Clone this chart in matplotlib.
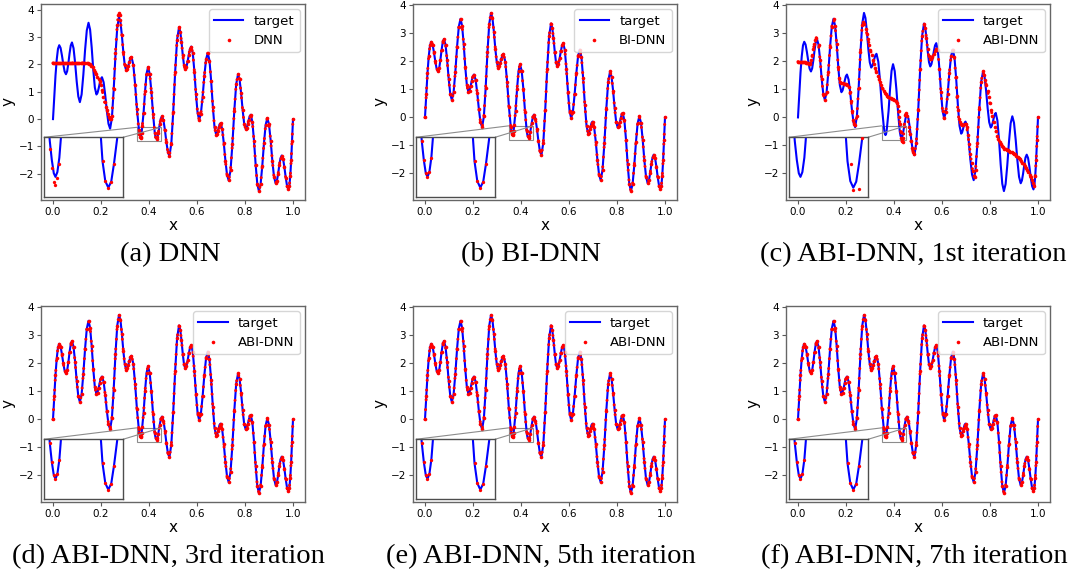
import numpy as np
import matplotlib
matplotlib.use("Agg")
import matplotlib.pyplot as plt
from mpl_toolkits.axes_grid1.inset_locator import mark_inset

# target curve: extrema plus a few points per half wave
target_x = [0.0, 0.0052, 0.0104, 0.0156, 0.0208, 0.026,
            0.0316, 0.0372, 0.0428, 0.0484, 0.054,
            0.059, 0.064, 0.069, 0.074, 0.079,
            0.0856, 0.0922, 0.0988, 0.1054, 0.112,
            0.1192, 0.1264, 0.1336, 0.1408, 0.148,
            0.1546, 0.1612, 0.1678, 0.1744, 0.181,
            0.1856, 0.1902, 0.1948, 0.1994, 0.204,
            0.2108, 0.2176, 0.2244, 0.2312, 0.238,
            0.2454, 0.2528, 0.2602, 0.2676, 0.275,
            0.281, 0.287, 0.293, 0.299, 0.305,
            0.3094, 0.3138, 0.3182, 0.3226, 0.327,
            0.3346, 0.3422, 0.3498, 0.3574, 0.3600, 0.3625, 0.3646,
            0.3670, 0.3695, 0.3720, 0.3774, 0.3836, 0.3898, 0.396,
            0.403, 0.410, 0.417, 0.424, 0.4275, 0.4313,
            0.435, 0.4385, 0.4448, 0.4494, 0.454,
            0.4602, 0.4664, 0.4726, 0.4788, 0.485,
            0.493, 0.501, 0.509, 0.517, 0.525,
            0.5302, 0.5354, 0.5406, 0.5458, 0.551,
            0.556, 0.561, 0.566, 0.571, 0.576,
            0.5826, 0.5892, 0.5958, 0.6024, 0.609,
            0.6162, 0.6234, 0.6306, 0.6378, 0.645,
            0.652, 0.659, 0.666, 0.673, 0.680,
            0.6836, 0.6872, 0.6908, 0.6944, 0.698,
            0.7048, 0.7116, 0.7184, 0.7252, 0.732,
            0.7398, 0.7476, 0.7554, 0.7632, 0.771,
            0.7774, 0.7838, 0.7902, 0.7966, 0.803,
            0.8072, 0.8114, 0.8156, 0.8198, 0.824,
            0.8308, 0.8376, 0.8444, 0.8512, 0.858,
            0.865, 0.872, 0.879, 0.886, 0.893,
            0.900, 0.907, 0.914, 0.921, 0.928,
            0.933, 0.938, 0.943, 0.948, 0.953,
            0.9586, 0.9642, 0.9698, 0.9754, 0.981,
            0.9848, 0.9886, 0.9924, 0.9962, 1.0]
target_y = [0.00, 0.83, 1.59, 2.18, 2.57, 2.70,
            2.60, 2.33, 2.01, 1.74, 1.64,
            1.75, 2.04, 2.40, 2.69, 2.80,
            2.59, 2.05, 1.37, 0.83, 0.62,
            0.90, 1.62, 2.52, 3.24, 3.52,
            3.27, 2.62, 1.80, 1.15, 0.90,
            0.96, 1.12, 1.31, 1.47, 1.53,
            1.35, 0.88, 0.30, -0.17, -0.35,
            0.04, 1.06, 2.32, 3.34, 3.73,
            3.55, 3.06, 2.45, 1.97, 1.78,
            1.83, 1.95, 2.10, 2.22, 2.27,
            1.99, 1.26, 0.36, -0.33, -0.49, -0.60, -0.63,
            -0.59, -0.47, -0.26, 0.23, 1.02, 1.66, 1.90,
            1.65, 1.00, 0.18, -0.50, -0.665, -0.72,
            -0.67, -0.52, -0.19, 0.02, 0.10,
            -0.04, -0.40, -0.85, -1.21, -1.35,
            -0.90, 0.27, 1.73, 2.90, 3.35,
            3.20, 2.82, 2.35, 1.97, 1.82,
            1.90, 2.11, 2.36, 2.57, 2.65,
            2.40, 1.73, 0.90, 0.23, -0.03,
            0.20, 0.82, 1.58, 2.19, 2.42,
            2.14, 1.39, 0.46, -0.30, -0.58,
            -0.54, -0.43, -0.30, -0.19, -0.15,
            -0.35, -0.87, -1.52, -2.04, -2.24,
            -1.87, -0.90, 0.30, 1.27, 1.64,
            1.45, 0.95, 0.33, -0.17, -0.36,
            -0.31, -0.18, -0.02, 0.11, 0.16,
            -0.11, -0.80, -1.67, -2.37, -2.63,
            -2.38, -1.71, -0.88, -0.21, 0.04,
            -0.19, -0.79, -1.53, -2.12, -2.35,
            -2.25, -2.00, -1.68, -1.43, -1.33,
            -1.45, -1.76, -2.14, -2.45, -2.57,
            -2.44, -2.08, -1.51, -0.79, 0.00]

# (a) DNN: flat start, then joins the target
a_head_x = [0.000, 0.005, 0.010, 0.015, 0.020, 0.025, 0.030, 0.035, 0.040, 0.045,
            0.050, 0.055, 0.060, 0.065, 0.070, 0.075, 0.080, 0.085, 0.090, 0.095,
            0.100, 0.105, 0.110, 0.115, 0.120, 0.125, 0.130, 0.135, 0.140,
            0.145, 0.150, 0.155, 0.160, 0.165, 0.170, 0.175, 0.180, 0.185, 0.190,
            0.195, 0.200, 0.205, 0.210, 0.215, 0.220, 0.225, 0.229, 0.233, 0.237,
            0.241, 0.2454, 0.2528, 0.2602, 0.2676, 0.272, 0.275, 0.278, 0.281, 0.287]
a_head_y = [2.05, 2.05, 2.05, 2.05, 2.05, 2.05, 2.05, 2.05, 2.05, 2.05,
            2.05, 2.05, 2.05, 2.05, 2.05, 2.05, 2.05, 2.05, 2.05, 2.05,
            2.05, 2.05, 2.05, 2.05, 2.05, 2.05, 2.05, 2.05, 2.05,
            2.05, 2.03, 2.00, 1.95, 1.89, 1.81, 1.72, 1.63, 1.55, 1.47,
            1.38, 1.24, 1.05, 0.82, 0.62, 0.46, 0.33, 0.20, 0.09, 0.02,
            0.01, 0.10, 1.10, 2.40, 3.45, 3.80, 3.88, 3.82, 3.62, 3.08]
a_dip_x = [0.3574, 0.3600, 0.3625, 0.3646, 0.3670, 0.3695]
a_dip_y = [-0.40, -0.56, -0.67, -0.70, -0.64, -0.52]

# (c) ABI-DNN, 1st iteration: pieces that leave the target
c_head_x = [0.000, 0.004, 0.008, 0.012, 0.016, 0.020, 0.024, 0.028, 0.032, 0.036,
            0.040, 0.044, 0.048, 0.052, 0.056, 0.060, 0.064, 0.068, 0.072, 0.076]
c_head_y = [1.99, 1.99, 1.99, 1.98, 1.98, 1.97, 1.97, 1.96, 1.95, 1.94,
            1.93, 1.92, 1.92, 1.95, 2.05, 2.22, 2.43, 2.63, 2.78, 2.85]
c_mid_x = [0.172, 0.176, 0.181, 0.186, 0.191, 0.196, 0.201, 0.206, 0.211, 0.216,
           0.221, 0.226, 0.231, 0.235, 0.238, 0.2454, 0.2528, 0.2602, 0.2676, 0.272,
           0.277, 0.282, 0.287, 0.292, 0.297, 0.302, 0.307, 0.312, 0.317, 0.322,
           0.327, 0.332, 0.337, 0.342, 0.347, 0.352, 0.357, 0.362, 0.367, 0.372,
           0.377, 0.382, 0.387, 0.392, 0.397, 0.402, 0.407, 0.412, 0.416, 0.419,
           0.422, 0.425, 0.428, 0.431, 0.434, 0.437, 0.439, 0.4425, 0.447, 0.452,
           0.456, 0.461, 0.466, 0.471, 0.476, 0.480, 0.485]
c_mid_y = [1.42, 1.27, 1.23, 1.22, 1.21, 1.20, 1.19, 1.16, 1.10, 0.92,
           0.60, 0.22, -0.08, -0.24, -0.28, 0.04, 1.06, 2.32, 3.30, 3.40,
           3.33, 3.17, 2.99, 2.80, 2.59, 2.40, 2.22, 2.06, 1.90, 1.75,
           1.62, 1.49, 1.37, 1.26, 1.15, 1.05, 0.96, 0.88, 0.82, 0.77,
           0.73, 0.70, 0.68, 0.66, 0.64, 0.62, 0.59, 0.53, 0.40, 0.22,
           0.00, -0.25, -0.52, -0.74, -0.85, -0.89, -0.73, -0.31, 0.08, 0.14,
           0.05, -0.33, -0.60, -0.85, -1.10, -1.25, -1.32]
c_p9_x = [0.540, 0.545, 0.550, 0.555, 0.560, 0.565, 0.570, 0.575, 0.580]
c_p9_y = [2.45, 2.18, 2.07, 2.08, 2.15, 2.27, 2.38, 2.45, 2.43]
c_p11_x = [0.657, 0.662, 0.666, 0.670, 0.674, 0.679, 0.684, 0.689, 0.694,
           0.699, 0.703, 0.708, 0.713, 0.718, 0.723, 0.728, 0.732, 0.736]
c_p11_y = [1.45, 0.75, 0.25, -0.05, -0.18, -0.24, -0.27, -0.26, -0.22,
           -0.22, -0.35, -0.62, -0.95, -1.30, -1.62, -1.90, -2.08, -2.13]
c_tail_x = [0.775, 0.780, 0.785, 0.790, 0.795, 0.800, 0.805, 0.810, 0.815, 0.820,
            0.825, 0.830, 0.835, 0.840, 0.845, 0.850, 0.855, 0.860, 0.865, 0.870,
            0.875, 0.880, 0.885, 0.890, 0.895, 0.900, 0.905, 0.910, 0.915, 0.920,
            0.925, 0.930, 0.935, 0.940, 0.945, 0.950, 0.955, 0.960, 0.965, 0.970,
            0.975, 0.980]
c_tail_y = [1.50, 1.32, 1.14, 0.95, 0.72, 0.50, 0.26, 0.04, -0.16, -0.34,
            -0.50, -0.65, -0.77, -0.87, -0.95, -1.02, -1.07, -1.11, -1.14, -1.16,
            -1.18, -1.20, -1.22, -1.24, -1.26, -1.29, -1.32, -1.36, -1.40, -1.45,
            -1.50, -1.55, -1.61, -1.67, -1.73, -1.80, -1.88, -1.96, -2.05, -2.14,
            -2.25, -2.35]

captions = ["(a) DNN", "(b) BI-DNN", "(c) ABI-DNN, 1st iteration",
            "(d) ABI-DNN, 3rd iteration", "(e) ABI-DNN, 5th iteration",
            "(f) ABI-DNN, 7th iteration"]
labels = ["DNN", "BI-DNN", "ABI-DNN", "ABI-DNN", "ABI-DNN", "ABI-DNN"]

tx = np.array(target_x)
ty = np.array(target_y)


def follow(lo, hi):
    m = (tx >= lo) & (tx <= hi)
    return list(tx[m]), list(ty[m])


def join(*pieces):
    xs, ys = [], []
    for px, py in pieces:
        xs += list(px)
        ys += list(py)
    return np.array(xs), np.array(ys)


pred_a = join((a_head_x, a_head_y), follow(0.292, 0.356), (a_dip_x, a_dip_y), follow(0.371, 1.01))
pred_c = join((c_head_x, c_head_y), follow(0.085, 0.168), (c_mid_x, c_mid_y),
              follow(0.49, 0.536), (c_p9_x, c_p9_y), follow(0.582, 0.653),
              (c_p11_x, c_p11_y), follow(0.739, 0.772), (c_tail_x, c_tail_y),
              follow(0.984, 1.01))
pred_good = (tx, ty)
preds = [pred_a, pred_good, pred_c, pred_good, pred_good, pred_good]

W, H = 1074, 576
fig = plt.figure(figsize=(W / 100, H / 100), dpi=100)

lefts = [41, 413, 786]
tops = [4, 306]
cap_x = [[170, 531, 913], [168, 541, 914]]
cap_y = [255, 557]

for i in range(6):
    r, c = divmod(i, 3)
    ax = fig.add_axes([lefts[c] / W, 1 - (tops[r] + 196) / H, 264 / W, 196 / H])
    px, py = preds[i]
    ax.plot(tx, ty, color='blue', lw=1.5, label='target', zorder=2)
    # prediction samples: dotted trace plus the read points themselves
    ax.plot(px, py, color='red', lw=2.2, ls=(0, (0.01, 3.2)),
            dash_capstyle='round', zorder=3)
    ax.plot(px, py, 'o', color='red', ms=2.6, mec='none', label=labels[i], zorder=3)
    ax.set_xticks([0.0, 0.2, 0.4, 0.6, 0.8, 1.0])
    ax.set_yticks([-2, -1, 0, 1, 2, 3, 4])
    ax.tick_params(labelsize=7.5, length=3, width=0.8, color='0.35', pad=2)
    for s in ax.spines.values():
        s.set_color('0.4')
        s.set_linewidth(1.0)
    ax.set_xlabel('x', fontsize=11, labelpad=1)
    ax.set_ylabel('y', fontsize=11, labelpad=2)
    ax.legend(loc='upper right', fontsize=9.5, handlelength=2.2, borderaxespad=0.4)

    # zoom on the two minima between x=0.35 and 0.45
    axins = ax.inset_axes([0.011, 0.014, 0.30, 0.306])
    axins.plot(tx, ty, color='blue', lw=1.5, zorder=2)
    axins.plot(px, py, 'o', color='red', ms=2.4, mec='none', zorder=3)
    axins.set_xlim(0.35, 0.45)
    axins.set_ylim(-0.8, -0.3)
    axins.set_xticks([])
    axins.set_yticks([])
    for s in axins.spines.values():
        s.set_color('0.3')
        s.set_linewidth(1.0)
    mark_inset(ax, axins, loc1=1, loc2=2, fc='none', ec='0.55', lw=0.8)

    fig.text(cap_x[r][c] / W, 1 - cap_y[r] / H, captions[i], ha='center', va='center',
             fontsize=20.5, family='Liberation Serif')

fig.savefig('out.png', dpi=100)
